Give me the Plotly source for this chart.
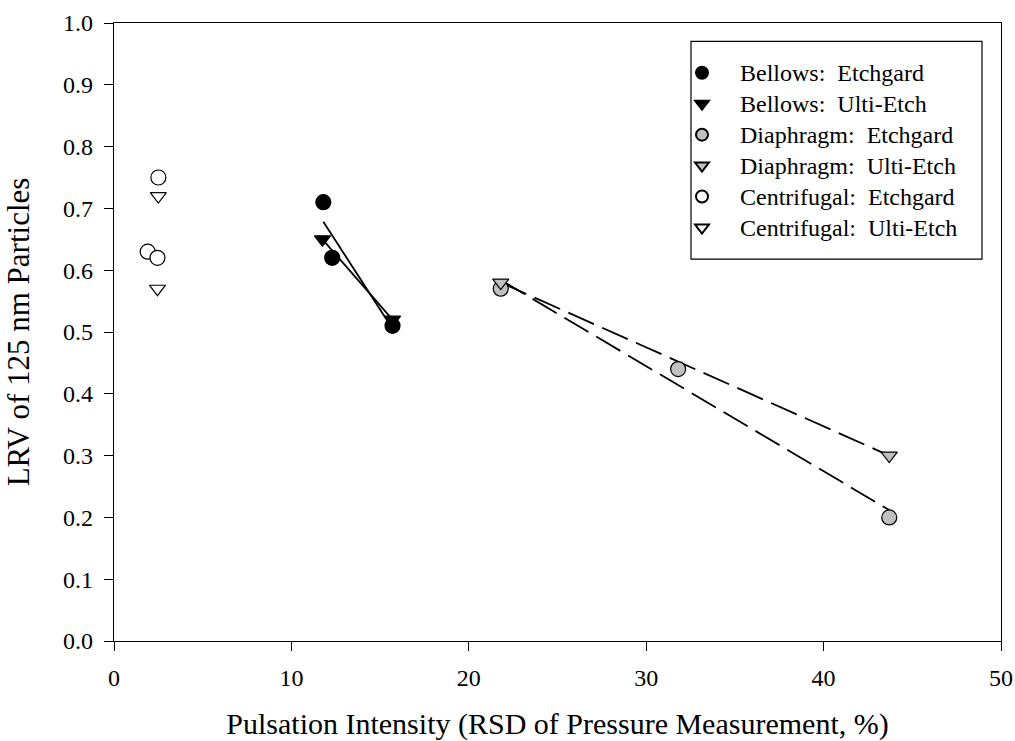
import numpy as np
import plotly.graph_objects as go

# ---- data ----
bellows_etch_x = [11.8, 12.3, 15.7]
bellows_etch_y = [0.71, 0.62, 0.51]
bellows_ulti_x = [11.75, 15.7]
bellows_ulti_y = [0.65, 0.52]
diaph_etch_x = [21.8, 31.8, 43.7]
diaph_etch_y = [0.57, 0.44, 0.20]
diaph_ulti_x = [21.8, 43.7]
diaph_ulti_y = [0.58, 0.30]
centr_etch_x = [2.5, 1.9, 2.45]
centr_etch_y = [0.75, 0.63, 0.62]
centr_ulti_x = [2.5, 2.45]
centr_ulti_y = [0.72, 0.57]

x_ticks = [0, 10, 20, 30, 40, 50]
y_ticks = [0.0, 0.1, 0.2, 0.3, 0.4, 0.5, 0.6, 0.7, 0.8, 0.9, 1.0]

FONT = "Liberation Serif"
GRAY = "#c0c0c0"
PAD = "\u00a0\u00a0\u00a0"

fig = go.Figure()


def fit_line(xs, ys, dash):
    xs = np.asarray(xs, float)
    ys = np.asarray(ys, float)
    m, b = np.polyfit(xs, ys, 1)
    xx = np.array([xs.min(), xs.max()])
    fig.add_trace(go.Scatter(x=xx, y=m * xx + b, mode="lines",
                             line=dict(color="black", width=1.8, dash=dash),
                             showlegend=False, hoverinfo="skip"))


fit_line(bellows_etch_x, bellows_etch_y, "solid")
fit_line(bellows_ulti_x, bellows_ulti_y, "solid")
fit_line(diaph_etch_x, diaph_etch_y, "28px,9px")
fit_line(diaph_ulti_x, diaph_ulti_y, "28px,9px")

series = [
    ("Bellows:\u00a0\u00a0Etchgard", bellows_etch_x, bellows_etch_y, "circle", "black"),
    ("Bellows:\u00a0\u00a0Ulti-Etch", bellows_ulti_x, bellows_ulti_y, "triangle-down", "black"),
    ("Diaphragm:\u00a0\u00a0Etchgard", diaph_etch_x, diaph_etch_y, "circle", GRAY),
    ("Diaphragm:\u00a0\u00a0Ulti-Etch", diaph_ulti_x, diaph_ulti_y, "triangle-down", GRAY),
    ("Centrifugal:\u00a0\u00a0Etchgard", centr_etch_x, centr_etch_y, "circle", "white"),
    ("Centrifugal:\u00a0\u00a0Ulti-Etch", centr_ulti_x, centr_ulti_y, "triangle-down", "white"),
]
for i, (name, xs, ys, sym, col) in enumerate(series):
    fig.add_trace(go.Scatter(
        x=xs, y=ys, mode="markers",
        name=f'<span style="font-size:24px">{PAD}{name}</span>',
        marker=dict(symbol=sym, size=15 if sym == "circle" else 14, color=col,
                    line=dict(color="black", width=1.2)),
    ))

PW, PH = 887.0, 618.3
fig.add_shape(type="rect", xref="paper", yref="paper",
              x0=(691 - 114) / PW, x1=(982 - 114) / PW,
              y0=(641 - 259) / PH, y1=(641 - 41) / PH,
              line=dict(color="black", width=1.2), fillcolor="rgba(0,0,0,0)")

axis_common = dict(showline=True, linecolor="black", linewidth=1.2, mirror=True,
                   ticks="outside", ticklen=9, tickwidth=1.2, tickcolor="black",
                   showgrid=False, zeroline=False,
                   tickfont=dict(family=FONT, size=24, color="black"))

fig.update_layout(
    width=1015, height=741,
    margin=dict(l=114, r=14, t=23, b=100),
    paper_bgcolor="white", plot_bgcolor="white",
    font=dict(family=FONT, color="black"),
    showlegend=True,
    legend=dict(x=(682 - 114) / PW, y=(641 - 52) / PH, xanchor="left", yanchor="top",
                bgcolor="rgba(0,0,0,0)", borderwidth=0,
                font=dict(family=FONT, size=21.5, color="black"),
                tracegroupgap=0, itemsizing="constant"),
    xaxis=dict(range=[0, 50], tickvals=x_ticks, ticktext=[str(v) for v in x_ticks],
               ticklabelstandoff=6,
               title=dict(text="Pulsation Intensity (RSD of Pressure Measurement, %)",
                          font=dict(family=FONT, size=30), standoff=36),
               automargin=False,
               **axis_common),
    yaxis=dict(range=[0, 1], tickvals=y_ticks, ticktext=[f"{v:.1f}" for v in y_ticks],
               ticklabelstandoff=6,
               title=dict(text="LRV of 125 nm Particles", font=dict(family=FONT, size=31),
                          standoff=24),
               automargin=False,
               **axis_common),
)

fig.write_html("out.html")
